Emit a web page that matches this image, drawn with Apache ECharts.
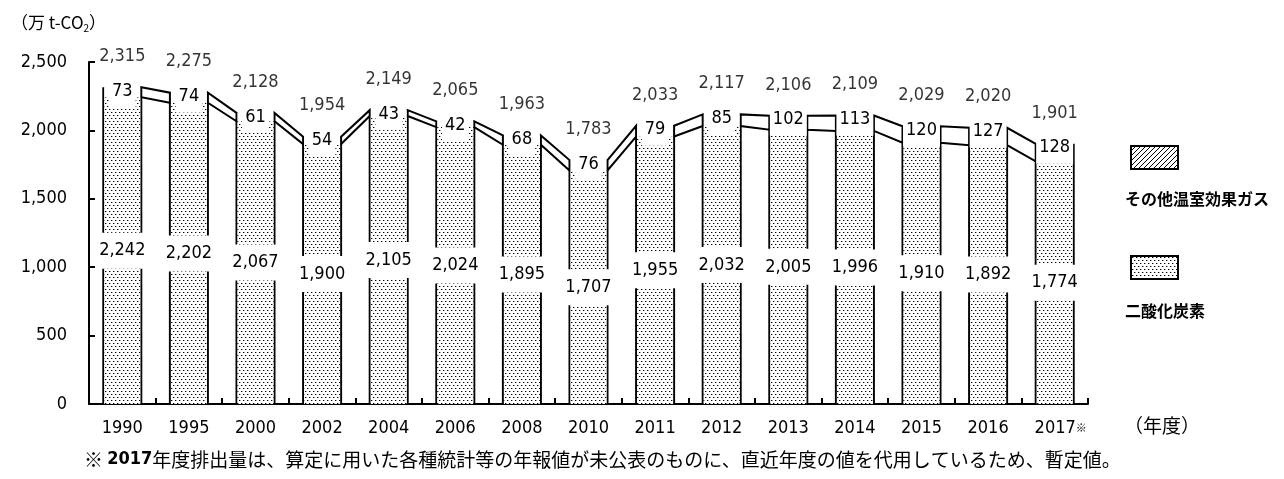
<!DOCTYPE html>
<html><head><meta charset="utf-8">
<script src="https://cdn.jsdelivr.net/npm/echarts@6/dist/echarts.min.js"></script>
<style>html,body{margin:0;padding:0;background:#fff}#c{width:1284px;height:479px}</style>
</head><body><div id="c"></div>
<script>
const categories = ['1990','1995','2000','2002','2004','2006','2008','2010','2011','2012','2013','2014','2015','2016','2017'];
const co2 = [2242,2202,2067,1900,2105,2024,1895,1707,1955,2032,2005,1996,1910,1892,1774];
const otherGas = [73,74,61,54,43,42,68,76,79,85,102,113,120,127,128];
const totals = [2315,2275,2128,1954,2149,2065,1963,1783,2033,2117,2106,2109,2029,2020,1901];
const yMin = 0, yMax = 2500, yStep = 500;

const NUM_FONT = "'DejaVu Sans Condensed','Liberation Sans Narrow',sans-serif";
const JP_FONT = "'Noto Sans CJK JP','Noto Sans',sans-serif";

function makeDots(){
  const c = document.createElement('canvas'); c.width = 8; c.height = 6;
  const g = c.getContext('2d'); g.fillStyle = '#fff'; g.fillRect(0,0,8,6);
  g.fillStyle = '#000';
  g.fillRect(1,1,1,1); g.fillRect(5,1,1,1); g.fillRect(3,4,1,1); g.fillRect(7,4,1,1);
  g.fillStyle = 'rgba(0,0,0,0.35)';
  g.fillRect(2,1,1,1); g.fillRect(6,1,1,1); g.fillRect(4,4,1,1); g.fillRect(0,4,1,1);
  return c;
}
function makeHatch(){
  const c = document.createElement('canvas'); c.width = 5; c.height = 5;
  const g = c.getContext('2d'); g.fillStyle = '#fff'; g.fillRect(0,0,5,5);
  g.strokeStyle = '#000'; g.lineWidth = 1;
  g.beginPath(); g.moveTo(-1,6); g.lineTo(6,-1); g.stroke();
  g.beginPath(); g.moveTo(-1,1); g.lineTo(1,-1); g.stroke();
  g.beginPath(); g.moveTo(4,6); g.lineTo(6,4); g.stroke();
  return c;
}
const dots = {image: makeDots(), repeat: 'repeat'};
const hatch = {image: makeHatch(), repeat: 'repeat'};

const HW = 19;
const stackTop = co2.map((v,i)=>v+otherGas[i]);
const borderData = categories.map((c,i)=>[i, stackTop[i]]);
const bandData = categories.slice(0,-1).map((c,i)=>[i, co2[i], stackTop[i], co2[i+1], stackTop[i+1]]);

const chart = echarts.init(document.getElementById('c'), null, {renderer:'canvas'});
chart.setOption({
  animation: false,
  backgroundColor: '#fff',
  title: {
    text: '（万 t-CO{sub|2}）', left: 6, top: 8,
    textStyle: {fontFamily: JP_FONT, fontSize: 17, fontWeight: 'normal', color: '#000',
      rich: {sub: {fontFamily: JP_FONT, fontSize: 10, verticalAlign: 'bottom', padding: [10,0,0,0]}}}
  },
  grid: {left: 89, right: 196, top: 62, bottom: 75},
  legend: {
    orient: 'vertical', left: 1125, top: 140, itemWidth: 47, itemHeight: 23, itemGap: 85,
    formatter: () => '', selectedMode: false,
    data: [
      {name: 'その他温室効果ガス', icon: 'rect', itemStyle: {color: hatch, borderColor: '#000', borderWidth: 2}},
      {name: '二酸化炭素', icon: 'rect', itemStyle: {color: dots, borderColor: '#000', borderWidth: 2}}
    ]
  },
  xAxis: {
    type: 'category', data: categories,
    axisLine: {lineStyle: {color: '#000', width: 2}},
    axisTick: {show: true, inside: true, length: 6, alignWithLabel: false, interval: 0, lineStyle: {color: '#000', width: 2}},
    axisLabel: {
      interval: 0, color: '#000', fontFamily: NUM_FONT, fontSize: 18, margin: 15,
      formatter: v => v === '2017' ? '{pad|}2017{s|※}' : v,
      rich: {pad: {width: 12}, s: {fontSize: 11, fontWeight: 'bold', fontFamily: JP_FONT}}
    }
  },
  yAxis: {
    type: 'value', min: yMin, max: yMax, interval: yStep,
    axisLine: {show: true, lineStyle: {color: '#000', width: 2}},
    axisTick: {show: true, inside: true, length: 6, lineStyle: {color: '#000', width: 2}},
    splitLine: {show: false},
    axisLabel: {color: '#000', fontFamily: NUM_FONT, fontSize: 18, margin: 22,
      formatter: v => v.toLocaleString('en-US')}
  },
  graphic: [
    {type: 'text', left: 1125, top: 191, style: {text: 'その他温室効果ガス', font: 'bold 16px ' + JP_FONT, fill: '#000'}},
    {type: 'text', left: 1125, top: 303, style: {text: '二酸化炭素', font: 'bold 16px ' + JP_FONT, fill: '#000'}},
    {type: 'text', left: 1124, top: 416, style: {text: '（年度）', font: '19px ' + JP_FONT, fill: '#000'}},
    {type: 'text', left: 84, top: 450, style: {
      text: '※ {b|2017}年度排出量は、算定に用いた各種統計等の年報値が未公表のものに、直近年度の値を代用しているため、暫定値。',
      font: '19px ' + JP_FONT, fill: '#000',
      rich: {b: {fontWeight: 'bold', fontFamily: NUM_FONT, fontSize: 18}}}}
  ],
  series: [
    {
      type: 'custom', name: 'borders', z: 1, silent: true,
      data: borderData, encode: {x: 0, y: 1},
      renderItem: function(params, api){
        const i = api.value(0);
        const t = api.coord([i, api.value(1)]);
        const b = api.coord([i, 0]);
        return {type: 'group', children: [
          {type: 'line', shape: {x1: t[0]-HW, y1: t[1], x2: b[0]-HW, y2: b[1]}, style: {stroke: '#000', lineWidth: 2}},
          {type: 'line', shape: {x1: t[0]+HW, y1: t[1], x2: b[0]+HW, y2: b[1]}, style: {stroke: '#000', lineWidth: 2}}
        ]};
      }
    },
    {
      type: 'custom', name: 'bands', z: 1, silent: true,
      data: bandData, encode: {x: 0, y: [2, 4]},
      renderItem: function(params, api){
        const i = api.value(0);
        const c0 = api.coord([i, api.value(1)]);
        const t0 = api.coord([i, api.value(2)]);
        const c1 = api.coord([i+1, api.value(3)]);
        const t1 = api.coord([i+1, api.value(4)]);
        const x1 = c0[0] + HW, x2 = c1[0] - HW;
        return {type: 'polygon', shape: {points: [[x1, c0[1]], [x1, t0[1]], [x2, t1[1]], [x2, c1[1]]]},
          style: {fill: '#fff', stroke: '#000', lineWidth: 2}};
      }
    },
    {
      type: 'bar', name: '二酸化炭素', stack: 'total', barWidth: 36, z: 2,
      data: co2,
      itemStyle: {color: dots},
      label: {show: true, position: 'inside', color: '#000', fontFamily: NUM_FONT, fontSize: 18,
        backgroundColor: '#fff', padding: [9, 3],
        formatter: p => p.value.toLocaleString('en-US')}
    },
    {
      type: 'bar', name: 'その他温室効果ガス', stack: 'total', barWidth: 36, z: 2,
      data: otherGas,
      itemStyle: {color: '#fff'},
      label: {show: true, position: ['50%', 4], align: 'center', verticalAlign: 'middle',
        color: '#000', fontFamily: NUM_FONT, fontSize: 18,
        backgroundColor: '#fff', padding: [4, 3, 10, 3]}
    },
    {
      type: 'scatter', name: 'total', symbolSize: 0, silent: true, z: 3,
      data: totals,
      label: {show: true, position: 'top', distance: 22, color: '#000', fontFamily: NUM_FONT, fontSize: 18,
        formatter: p => p.value.toLocaleString('en-US')}
    }
  ]
});
</script></body></html>
